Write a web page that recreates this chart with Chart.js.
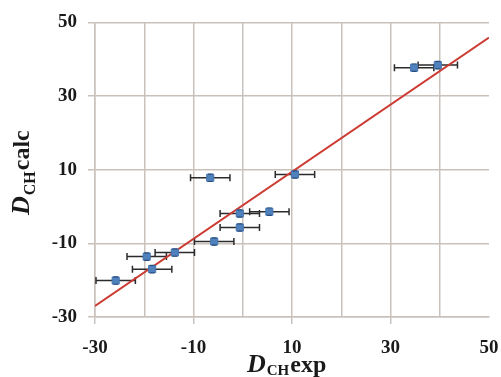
<!DOCTYPE html>
<html>
<head>
<meta charset="utf-8">
<script src="https://cdn.jsdelivr.net/npm/chart.js@4"></script>
<style>
  html, body { margin: 0; padding: 0; background: #ffffff; }
  #wrap { position: relative; width: 501px; height: 377px; }
</style>
</head>
<body>
<div id="wrap"><canvas id="c" width="501" height="377"></canvas></div>
<script>
// ---- data ----
const expX  = [-25.8, -19.5, -18.4, -13.8, -6.6, 10.6, -0.6, 5.4, -0.6, -5.8, 34.8, 39.6];
const calcY = [-20.1, -13.6, -17.0, -12.5, 7.8, 8.7, -1.9, -1.4, -5.7, -9.5, 37.7, 38.4];
const xErr  = [4, 4, 4, 4, 4, 4, 4, 4, 4, 4, 4, 4];
const yErr  = [1, 1, 1, 1, 1, 1, 1, 1, 1, 1, 1, 1];
const fitX  = [-30, 50];
const fitY  = [-27.0, 45.9];
const xTickLabels = [-30, -10, 10, 30, 50];
const yTickLabels = [-30, -10, 10, 30, 50];
const xTitleParts = ['D', 'CH', 'exp'];
const yTitleParts = ['D', 'CH', 'calc'];

const GRID = '#c9c1bc';
const SERIF = '"Liberation Serif", "Times New Roman", serif';

const errorBars = {
  id: 'errorBars',
  beforeDatasetsDraw(chart) {
    const { ctx, scales: { x, y } } = chart;
    ctx.save();
    ctx.strokeStyle = '#2b2b2b';
    ctx.lineWidth = 1.5;
    expX.forEach((v, i) => {
      const py = y.getPixelForValue(calcY[i]);
      const l = x.getPixelForValue(v - xErr[i]);
      const r = x.getPixelForValue(v + xErr[i]);
      ctx.beginPath();
      ctx.moveTo(l, py); ctx.lineTo(r, py);
      ctx.moveTo(l, py - 3.5); ctx.lineTo(l, py + 3.5);
      ctx.moveTo(r, py - 3.5); ctx.lineTo(r, py + 3.5);
      ctx.stroke();
    });
    ctx.restore();
  },
  afterDatasetsDraw(chart) {
    const { ctx, scales: { x, y } } = chart;
    ctx.save();
    ctx.strokeStyle = '#2c4f7f';
    ctx.lineWidth = 1.2;
    expX.forEach((v, i) => {
      const px = x.getPixelForValue(v);
      const t = y.getPixelForValue(calcY[i] + yErr[i]);
      const b = y.getPixelForValue(calcY[i] - yErr[i]);
      ctx.beginPath();
      ctx.moveTo(px - 2.5, t); ctx.lineTo(px + 2.5, t);
      ctx.moveTo(px - 2.5, b); ctx.lineTo(px + 2.5, b);
      ctx.stroke();
    });
    ctx.restore();
  }
};

function drawParts(ctx, parts, fonts, offsets, startX, baseY) {
  let cx = startX;
  parts.forEach((p, i) => {
    ctx.font = fonts[i];
    ctx.fillText(p, cx, baseY + offsets[i]);
    cx += ctx.measureText(p).width + 1;
  });
}

const axisTitles = {
  id: 'axisTitles',
  afterDraw(chart) {
    const ctx = chart.ctx;
    ctx.save();
    ctx.fillStyle = '#1a1a1a';
    ctx.textBaseline = 'alphabetic';
    ctx.textAlign = 'left';
    // x title
    drawParts(ctx, xTitleParts,
      ['italic bold 26px ' + SERIF, 'bold 15px ' + SERIF, 'bold 24px ' + SERIF],
      [0, 3, 0], 247, 372);
    // y title (rotated)
    ctx.translate(29, 215);
    ctx.rotate(-Math.PI / 2);
    drawParts(ctx, yTitleParts,
      ['italic bold 26px ' + SERIF, 'bold 16px ' + SERIF, 'bold 24px ' + SERIF],
      [0, 6, 0], 0, 0);
    ctx.restore();
  }
};

new Chart(document.getElementById('c'), {
  type: 'scatter',
  data: {
    datasets: [
      {
        type: 'line',
        data: fitX.map((v, i) => ({ x: v, y: fitY[i] })),
        borderColor: '#cc3b32',
        borderWidth: 2,
        pointRadius: 0,
        fill: false,
        order: 2
      },
      {
        data: expX.map((v, i) => ({ x: v, y: calcY[i] })),
        pointStyle: 'rect',
        pointRadius: 5,
        backgroundColor: '#4f81bd',
        borderColor: '#4575b0',
        borderWidth: 1,
        order: 1
      }
    ]
  },
  options: {
    responsive: false,
    animation: false,
    layout: { padding: { top: 20, right: 12, left: 0, bottom: 0 } },
    plugins: { legend: { display: false }, tooltip: { enabled: false } },
    scales: {
      x: {
        type: 'linear',
        min: -30, max: 50,
        afterFit: s => { s.height = 60; s.paddingLeft = 0; s.paddingRight = 0; },
        border: { display: true, color: GRID, width: 1.5 },
        grid: {
          color: c => (c.tick && c.tick.value === 50) ? 'rgba(0,0,0,0)' : GRID,
          lineWidth: 1.5,
          tickLength: 7,
          tickColor: c => (c.tick && xTickLabels.includes(c.tick.value) && c.tick.value !== 50) ? GRID : 'rgba(0,0,0,0)'
        },
        ticks: {
          stepSize: 10,
          autoSkip: false,
          maxRotation: 0,
          padding: 13,
          color: '#1a1a1a',
          font: { family: SERIF, size: 19, weight: 'bold' },
          callback: v => xTickLabels.includes(v) ? String(v) : ''
        }
      },
      y: {
        type: 'linear',
        min: -30, max: 50,
        afterFit: s => { s.width = 95; },
        border: { display: true, color: GRID, width: 1.5 },
        grid: {
          color: GRID,
          lineWidth: 1.5,
          tickLength: 7,
          tickColor: GRID
        },
        ticks: {
          stepSize: 20,
          autoSkip: false,
          padding: 11,
          color: '#1a1a1a',
          font: { family: SERIF, size: 19, weight: 'bold' },
          callback: v => yTickLabels.includes(v) ? String(v) : ''
        }
      }
    }
  },
  plugins: [errorBars, axisTitles]
});
</script>
</body>
</html>
